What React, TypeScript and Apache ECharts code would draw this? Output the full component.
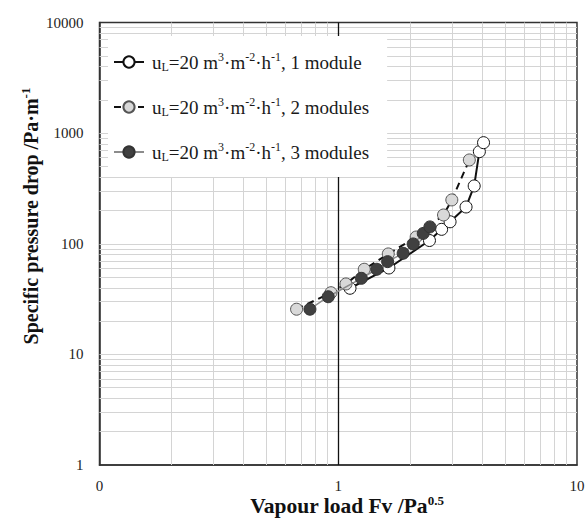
import React, { useEffect, useRef } from 'react';
import * as echarts from 'echarts';

const FONT = '"Liberation Serif", "DejaVu Serif", serif';

// Series 1: 1 module (white markers, solid line)
const s1X = [1.12, 1.63, 2.41, 2.71, 2.94, 3.43, 3.71, 3.9, 4.06];
const s1Y = [39.6, 60.4, 107, 135, 158, 215, 333, 680, 820];
// Series 2: 2 modules (light grey markers, dashed line)
const s2X = [0.669, 0.932, 1.077, 1.285, 1.62, 2.12, 2.76, 2.99, 3.54];
const s2Y = [25.6, 36.1, 43.3, 58.8, 80.9, 115, 182, 249, 572];
// Series 3: 3 modules (dark markers, grey line)
const s3X = [0.761, 0.908, 1.25, 1.45, 1.61, 1.87, 2.06, 2.27, 2.42];
const s3Y = [25.6, 33.2, 48.7, 58.8, 68.9, 82, 99.6, 124, 142];

const SERIES_NAMES = ['1 module', '2 modules', '3 modules'];
const X_TICK_LABELS = ['0', '1', '10'];
const Y_TICK_LABELS = ['1', '10', '100', '1000', '10000'];
const X_TITLE = 'Vapour load Fv /Pa{sup|0.5}';
const Y_TITLE = 'Specific pressure drop /Pa·m{sup|-1}';
const X_DECADES = [0.1, 1];
const Y_DECADES = [1, 10, 100, 1000];
const MINOR_MULT = [2, 3, 4, 5, 6, 7, 8, 9];

export default function App() {
  const ref = useRef<HTMLDivElement>(null);
  useEffect(() => {
    document.body.style.margin = '0';
    const chart = echarts.init(ref.current!, null, { renderer: 'svg' });
    const pairs = (xs: number[], ys: number[]) => xs.map((x, i) => [x, ys[i]]);

    const xGrid: number[] = [];
    X_DECADES.forEach((d) => MINOR_MULT.forEach((m) => xGrid.push(d * m)));
    const yGrid: number[] = [];
    Y_DECADES.forEach((d) => MINOR_MULT.forEach((m) => yGrid.push(d * m)));
    Y_DECADES.slice(1).forEach((d) => yGrid.push(d));

    const legendText = (name: string) =>
      `u{sub|L}=20 m{sup|3}·m{sup|-2}·h{sup|-1}, ${name}`;

    const titleStyle = (size: number) => ({
      fontFamily: FONT,
      fontSize: size,
      fontWeight: 'bold',
      fill: '#111',
      lineHeight: 24,
      align: 'center',
      verticalAlign: 'middle',
      rich: {
        sup: { fontFamily: FONT, fontSize: 13, fontWeight: 'bold', fill: '#111', verticalAlign: 'top', lineHeight: 14 },
      },
    });

    chart.setOption({
      animation: false,
      grid: {
        left: 99.5,
        right: 8,
        top: 22.5,
        bottom: 55,
        show: true,
        borderColor: '#333',
        borderWidth: 1.5,
        outerBoundsMode: 'none',
        containLabel: false,
      },
      graphic: [
        { type: 'text', x: 347, y: 505.5, silent: true, style: { text: X_TITLE, ...titleStyle(21.5) } },
        {
          type: 'text',
          x: 30.5,
          y: 216,
          rotation: Math.PI / 2,
          silent: true,
          style: { text: Y_TITLE, ...titleStyle(20) },
        },
      ],
      legend: {
        data: SERIES_NAMES,
        orient: 'vertical',
        left: 108,
        top: 36,
        padding: [15, 18, 14, 5],
        itemGap: 23,
        itemWidth: 30,
        itemHeight: 14,
        backgroundColor: '#fff',
        z: 10,
        formatter: legendText,
        textStyle: {
          fontFamily: FONT,
          fontSize: 19,
          color: '#1a1a1a',
          lineHeight: 22,
          padding: [0, 0, 0, 3],
          rich: {
            sub: { fontFamily: FONT, fontSize: 12, color: '#1a1a1a', verticalAlign: 'bottom', lineHeight: 13 },
            sup: { fontFamily: FONT, fontSize: 12, color: '#1a1a1a', verticalAlign: 'top', lineHeight: 13 },
          },
        },
      },
      xAxis: {
        type: 'log',
        logBase: 10,
        min: 0.1,
        max: 10,
        axisLine: { show: true, lineStyle: { color: '#333', width: 1.5 } },
        axisTick: { show: false },
        splitLine: { show: false },
        axisLabel: {
          formatter: (v: number) => X_TICK_LABELS[Math.round(Math.log10(v)) + 1],
          fontFamily: FONT,
          fontSize: 15,
          color: '#222',
          margin: 13,
        },
      },
      yAxis: {
        type: 'log',
        logBase: 10,
        min: 1,
        max: 10000,
        axisLine: { show: true, lineStyle: { color: '#333', width: 1.5 } },
        axisTick: { show: false },
        splitLine: { show: false },
        axisLabel: {
          formatter: (v: number) => Y_TICK_LABELS[Math.round(Math.log10(v))],
          fontFamily: FONT,
          fontSize: 15,
          color: '#222',
          margin: 16,
        },
      },
      series: [
        {
          name: '__grid',
          type: 'line',
          data: [[1, 1]],
          symbol: 'none',
          lineStyle: { opacity: 0 },
          silent: true,
          z: 1,
          markLine: {
            z: 1,
            silent: true,
            symbol: ['none', 'none'],
            label: { show: false },
            lineStyle: { color: '#d4d4d4', width: 1, type: 'solid' },
            emphasis: { disabled: true },
            data: [
              ...xGrid.map((v) => ({ xAxis: v })),
              ...yGrid.map((v) => ({ yAxis: v })),
              { xAxis: 1, lineStyle: { color: '#111', width: 1.3, type: 'solid' } },
            ],
          },
        },
        {
          name: SERIES_NAMES[0],
          type: 'line',
          data: pairs(s1X, s1Y),
          symbol: 'circle',
          symbolSize: 12,
          itemStyle: { color: '#fff', borderColor: '#111', borderWidth: 1 },
          lineStyle: { color: '#111', width: 2 },
          z: 3,
        },
        {
          name: SERIES_NAMES[1],
          type: 'line',
          data: pairs(s2X, s2Y),
          symbol: 'circle',
          symbolSize: 12,
          itemStyle: { color: '#d9d9d9', borderColor: '#555', borderWidth: 1 },
          lineStyle: { color: '#111', width: 2, type: [7, 5] },
          z: 4,
        },
        {
          name: SERIES_NAMES[2],
          type: 'line',
          data: pairs(s3X, s3Y),
          symbol: 'circle',
          symbolSize: 12,
          itemStyle: { color: '#404040', borderColor: '#333', borderWidth: 1 },
          lineStyle: { color: '#8c8c8c', width: 1.5 },
          z: 5,
        },
      ],
    });
    return () => chart.dispose();
  }, []);
  return <div ref={ref} style={{ width: 585, height: 520 }} />;
}
